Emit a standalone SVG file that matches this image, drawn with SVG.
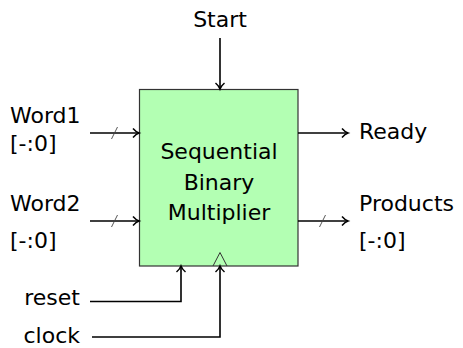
<svg xmlns="http://www.w3.org/2000/svg" width="463" height="348" viewBox="0 0 463 348">
  <style>
    text { font-family: "DejaVu Sans", "Liberation Sans", sans-serif; font-size: 22px; fill: #000; }
    .wire { fill: none; stroke: #000; stroke-width: 1.6; }
    .bus { fill: none; stroke: #444; stroke-width: 0.9; }
    .block { fill: #b3ffb3; stroke: #333; stroke-width: 1.2; }
  </style>
  <defs>
    <marker id="tip" markerWidth="12" markerHeight="12" refX="9" refY="6" orient="auto" markerUnits="userSpaceOnUse">
      <path d="M3,1.5 Q6,5 9,6 Q6,7 3,10.5" fill="none" stroke="#000" stroke-width="1.5"/>
    </marker>
  </defs>

  <g id="multiplier">
    <rect class="block" x="139.5" y="89.5" width="158.5" height="176.5"/>
    <path d="M213,266 L220,252.5 L227,266" fill="none" stroke="#333" stroke-width="1"/>
    <text x="219" y="159" text-anchor="middle">Sequential</text>
    <text x="219" y="190" text-anchor="middle">Binary</text>
    <text x="219" y="220" text-anchor="middle">Multiplier</text>
  </g>

  <g id="start">
    <text x="220" y="27" text-anchor="middle">Start</text>
  </g>
  <g id="word1">
    <text x="10" y="123">Word1</text>
    <text x="10" y="151">[-:0]</text>
  </g>
  <g id="word2">
    <text x="10" y="211">Word2</text>
    <text x="10" y="248">[-:0]</text>
  </g>
  <g id="ready">
    <text x="359" y="139">Ready</text>
  </g>
  <g id="products">
    <text x="359" y="211">Products</text>
    <text x="359" y="248">[-:0]</text>
  </g>
  <g id="reset">
    <text x="80" y="305" text-anchor="end">reset</text>
  </g>
  <g id="clock">
    <text x="80" y="343" text-anchor="end">clock</text>
  </g>

  <g id="connectors">
    <path class="wire" d="M220,38 V89" marker-end="url(#tip)"/>
    <path class="wire" d="M90,133 H139" marker-end="url(#tip)"/>
    <path class="bus" d="M111.5,139 L117.5,127"/>
    <path class="wire" d="M90,221 H139" marker-end="url(#tip)"/>
    <path class="bus" d="M111.5,227 L117.5,215"/>
    <path class="wire" d="M298,133 H348" marker-end="url(#tip)"/>
    <path class="wire" d="M298,221 H348" marker-end="url(#tip)"/>
    <path class="bus" d="M319.5,227 L325.5,215"/>
    <path class="wire" d="M90,301.5 H181 V266" marker-end="url(#tip)"/>
    <path class="wire" d="M92,337 H220 V266" marker-end="url(#tip)"/>
  </g>
</svg>
